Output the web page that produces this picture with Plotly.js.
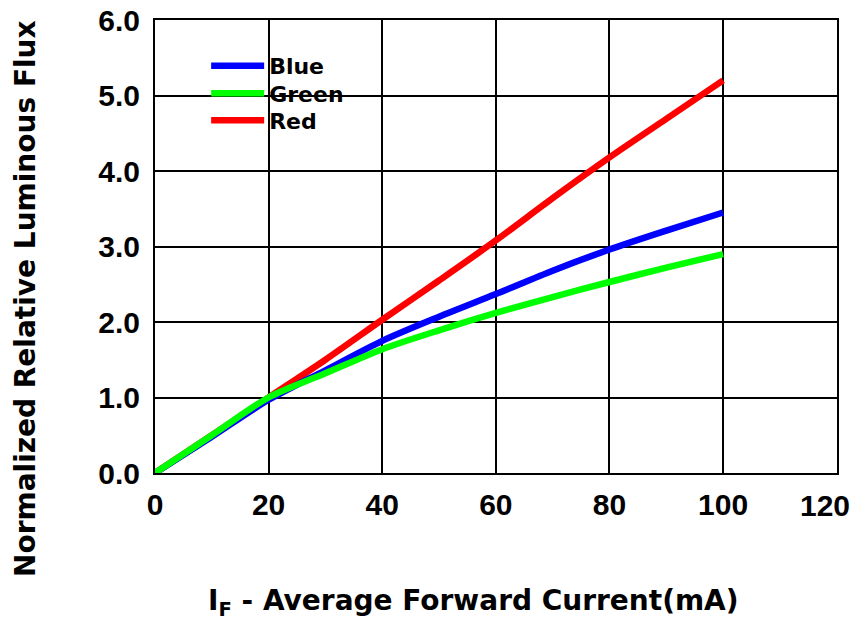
<!DOCTYPE html>
<html>
<head>
<meta charset="utf-8">
<script src="https://cdn.plot.ly/plotly-3.0.1.min.js"></script>
<style>html,body{margin:0;padding:0;background:#fff;}#chart{width:854px;height:623px;}</style>
</head>
<body>
<div id="chart"></div>
<script>
var current = [0, 10, 20, 30, 40, 50, 60, 70, 80, 90, 100];
var blueFlux = [0, 0.48, 0.97, 1.36, 1.75, 2.07, 2.37, 2.68, 2.96, 3.21, 3.45];
var greenFlux = [0, 0.5, 1.0, 1.32, 1.64, 1.89, 2.12, 2.33, 2.53, 2.72, 2.90];
var redFlux = [0, 0.5, 1.0, 1.50, 2.03, 2.55, 3.08, 3.64, 4.18, 4.69, 5.20];
var seriesNames = ["Blue", "Green", "Red"];
var xTicks = [0, 20, 40, 60, 80, 100];
var xTickText = ["0", "20", "40", "60", "80", "100"];
var xEdgeTick = 120;
var xEdgeTickText = "120";
var yTicks = [0, 1, 2, 3, 4, 5, 6];
var yTickText = ["0.0", "1.0", "2.0", "3.0", "4.0", "5.0", "6.0"];
var xTitle = "I<sub>F</sub> - Average Forward Current(mA)";
var yTitle = "Normalized Relative Luminous Flux";

function lineStyle(c) { return {color: c, width: 6.5, shape: "spline", smoothing: 0.8}; }
function tickFont() { return {family: "Liberation Sans, Arial, sans-serif", size: 30, color: "#000", weight: "bold"}; }

var traces = [
  {x: current, y: redFlux, name: seriesNames[2], legend: "legend3", mode: "lines", line: lineStyle("#ff0000")},
  {x: current, y: blueFlux, name: seriesNames[0], legend: "legend", mode: "lines", line: lineStyle("#0000ff")},
  {x: current, y: greenFlux, name: seriesNames[1], legend: "legend2", mode: "lines", line: lineStyle("#00ff00")}
];

var titleFont = {family: "DejaVu Sans, sans-serif", size: 28, color: "#000", weight: "bold"};
var legendFont = {family: "DejaVu Sans, sans-serif", size: 22, color: "#000", weight: "bold"};

function legendAt(yv) {
  return {x: 0.075, y: yv, xanchor: "left", yanchor: "middle", bgcolor: "rgba(0,0,0,0)",
          borderwidth: 0, itemwidth: 53, font: legendFont};
}

var layout = {
  width: 854, height: 623,
  margin: {l: 155, r: 17, t: 20, b: 150},
  paper_bgcolor: "#fff", plot_bgcolor: "#fff",
  showlegend: true,
  legend: legendAt(0.8985),
  legend2: legendAt(0.8377),
  legend3: legendAt(0.7781),
  xaxis: {
    range: [0, 120.05], tickvals: xTicks, ticktext: xTickText,
    showgrid: true, gridcolor: "#000", gridwidth: 2,
    zeroline: false, showline: true, mirror: true, linecolor: "#000", linewidth: 2,
    ticks: "", ticklabelstandoff: 4,
    tickfont: tickFont(),
    fixedrange: true
  },
  yaxis: {
    range: [0, 6], tickvals: yTicks, ticktext: yTickText,
    showgrid: true, gridcolor: "#000", gridwidth: 2,
    zeroline: false, showline: true, mirror: true, linecolor: "#000", linewidth: 2,
    ticks: "", ticklabelstandoff: 7,
    tickfont: tickFont(),
    fixedrange: true
  },
  annotations: [
    {text: xEdgeTickText, xref: "x", yref: "paper", x: xEdgeTick, y: -0.0728, xanchor: "center", yanchor: "middle",
     xshift: -12, showarrow: false, font: tickFont()},
    {text: yTitle, xref: "paper", yref: "paper", x: -0.19, y: 0.385, xanchor: "center", yanchor: "middle",
     textangle: -90, showarrow: false, font: titleFont},
    {text: xTitle, xref: "paper", yref: "paper", x: 0.4677, y: -0.285, xanchor: "center", yanchor: "middle",
     showarrow: false, font: titleFont}
  ]
};

Plotly.newPlot("chart", traces, layout, {staticPlot: true, displayModeBar: false});
</script>
</body>
</html>
